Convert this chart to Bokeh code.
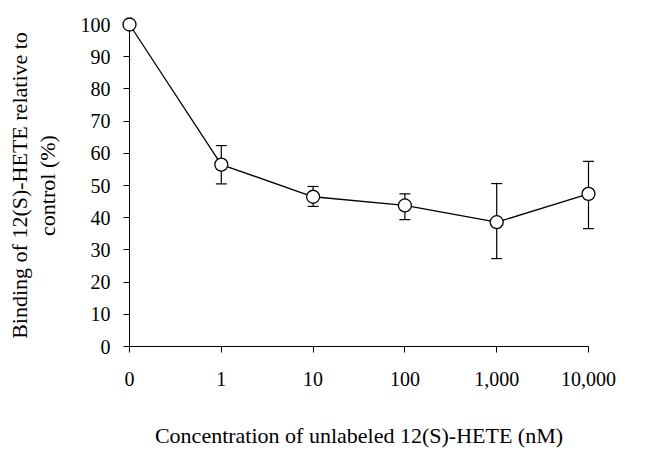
from bokeh.plotting import figure
from bokeh.models import Range1d, FixedTicker, ColumnDataSource, LinearAxis
from bokeh.embed import file_html
from bokeh.resources import INLINE

# Data
concentrations = ["0", "1", "10", "100", "1,000", "10,000"]
binding = [100, 56.5, 46.5, 43.8, 38.6, 47.4]
err_upper = [100, 62.4, 49.7, 47.4, 50.6, 57.5]
err_lower = [100, 50.5, 43.5, 39.4, 27.3, 36.6]
y_ticks = [0, 10, 20, 30, 40, 50, 60, 70, 80, 90, 100]

xpos = list(range(len(concentrations)))
src = ColumnDataSource(dict(x=xpos, y=binding, upper=err_upper, lower=err_lower))

FONT = "Liberation Serif"
TICK_SIZE = "20px"
TITLE_SIZE = "22px"

p = figure(width=647, height=450, output_backend="svg", toolbar_location=None,
           x_range=Range1d(0, len(concentrations) - 1), y_range=Range1d(0, 100),
           min_border_left=129, min_border_right=59, min_border_top=24, min_border_bottom=103)
p.outline_line_color = None
p.xgrid.grid_line_color = None
p.ygrid.grid_line_color = None
p.background_fill_color = "white"
p.border_fill_color = "white"

for ax in (p.xaxis[0], p.yaxis[0]):
    ax.axis_line_color = "black"
    ax.axis_line_width = 1
    ax.major_tick_line_color = "black"
    ax.major_tick_out = 6
    ax.major_tick_in = 0
    ax.minor_tick_line_color = None
    ax.major_label_text_font = FONT
    ax.major_label_text_font_size = TICK_SIZE
    ax.major_label_text_color = "black"
    ax.axis_label_text_font = FONT
    ax.axis_label_text_font_size = TITLE_SIZE
    ax.axis_label_text_font_style = "normal"
    ax.axis_label_text_color = "black"

p.xaxis.ticker = FixedTicker(ticks=xpos)
p.xaxis.major_label_overrides = {i: c for i, c in zip(xpos, concentrations)}
p.xaxis.major_label_standoff = 19
p.xaxis.axis_label = "Concentration of unlabeled 12(S)-HETE (nM)"
p.xaxis.axis_label_standoff = 34

p.yaxis.ticker = FixedTicker(ticks=y_ticks)
p.yaxis.major_label_standoff = 13
p.yaxis.axis_label = "control (%)"
p.yaxis.axis_label_standoff = 18

# outer line of the two-line y title
outer = LinearAxis(ticker=FixedTicker(ticks=[]), axis_line_color=None,
                   major_tick_line_color=None, minor_tick_line_color=None,
                   major_label_text_color=None,
                   axis_label="Binding of 12(S)-HETE relative to",
                   axis_label_text_font=FONT, axis_label_text_font_size=TITLE_SIZE,
                   axis_label_text_font_style="normal", axis_label_text_color="black",
                   axis_label_standoff=0)
p.add_layout(outer, "left")

# connecting line, error bars, markers
p.line("x", "y", source=src, line_color="black", line_width=1.3, level="overlay")
p.segment(x0="x", y0="lower", x1="x", y1="upper", source=src,
          line_color="black", line_width=1.2, level="overlay")
p.scatter("x", "upper", source=src, marker="dash", size=11,
          line_color="black", line_width=1.2, level="overlay")
p.scatter("x", "lower", source=src, marker="dash", size=11,
          line_color="black", line_width=1.2, level="overlay")
p.scatter("x", "y", source=src, size=13, fill_color="white", line_color="black",
          line_width=1.3, level="overlay")

open("out.html", "w").write(file_html(p, INLINE))
